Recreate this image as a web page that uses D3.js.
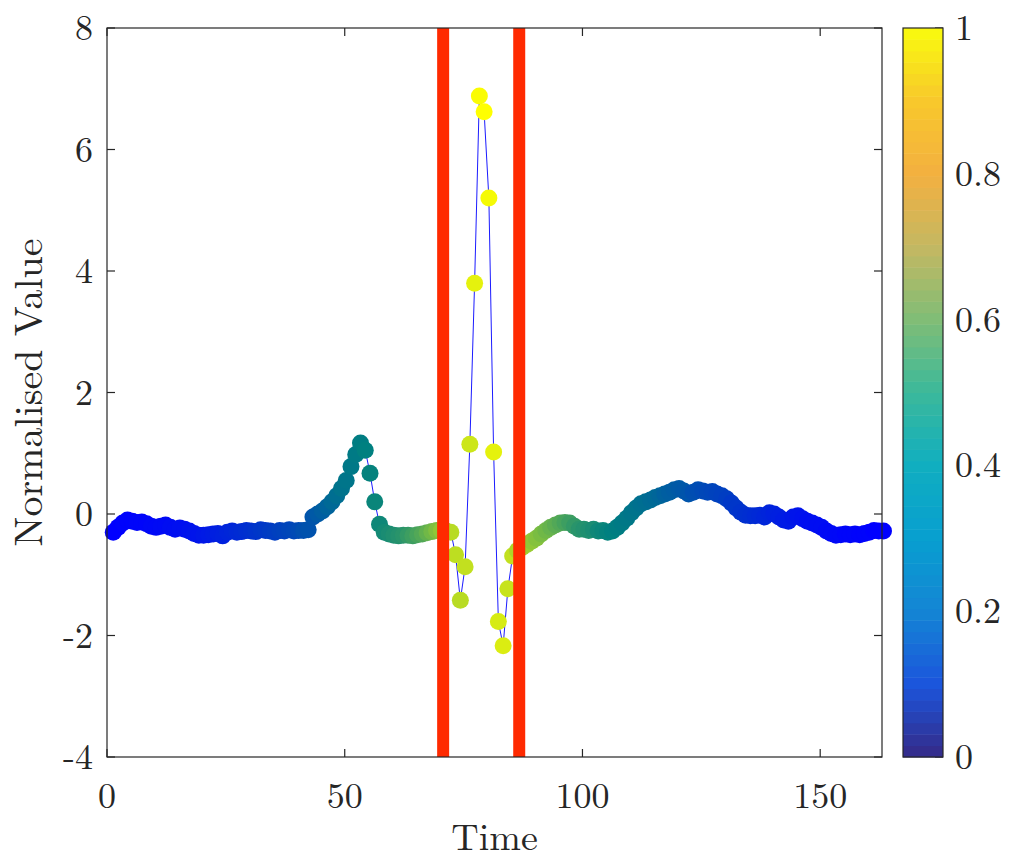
<!DOCTYPE html>
<html>
<head>
<meta charset="utf-8">
<script src="https://cdn.jsdelivr.net/npm/d3@7"></script>
<style>
  body { margin: 0; background: #fff; }
  text { font-family: "Latin Modern Roman", "CMU Serif", "Liberation Serif", serif; fill: #262626; }
</style>
</head>
<body>
<div id="chart"></div>
<script>
var width = 1014, height = 862,
    plot = {left: 107, right: 882, top: 28, bottom: 757},
    cbar = {left: 903, right: 943};

// normalised signal, one value per time step (t = 1..163)
var values = [
  -0.30,-0.22,-0.15,-0.10,-0.12,-0.14,-0.13,-0.16,-0.20,-0.22,
  -0.20,-0.18,-0.22,-0.25,-0.23,-0.25,-0.28,-0.32,-0.35,-0.35,
  -0.34,-0.33,-0.32,-0.36,-0.30,-0.28,-0.30,-0.29,-0.27,-0.28,
  -0.29,-0.26,-0.27,-0.28,-0.30,-0.27,-0.28,-0.26,-0.28,-0.27,
  -0.27,-0.26,-0.05, 0.00, 0.05, 0.12, 0.20, 0.30, 0.42, 0.55,
   0.78, 0.98, 1.17, 1.05, 0.67, 0.20,-0.17,-0.30,-0.33,-0.35,
  -0.36,-0.35,-0.35,-0.36,-0.34,-0.33,-0.31,-0.29,-0.27,-0.27,
  -0.28,-0.30,-0.67,-1.42,-0.87, 1.15, 3.80, 6.88, 6.62, 5.20,
   1.02,-1.77,-2.17,-1.23,-0.69,-0.60,-0.55,-0.50,-0.45,-0.40,
  -0.33,-0.27,-0.22,-0.18,-0.15,-0.14,-0.15,-0.20,-0.25,-0.25,
  -0.27,-0.25,-0.28,-0.27,-0.30,-0.28,-0.22,-0.15,-0.07, 0.02,
   0.10, 0.17, 0.20, 0.23, 0.27, 0.30, 0.33, 0.36, 0.40, 0.42,
   0.38, 0.33, 0.36, 0.40, 0.38, 0.36, 0.37, 0.33, 0.30, 0.25,
   0.18, 0.10, 0.03,-0.02,-0.03,-0.03,-0.02,-0.05, 0.02, 0.00,
  -0.05,-0.10,-0.12,-0.05,-0.03,-0.08,-0.12,-0.15,-0.18,-0.22,
  -0.28,-0.32,-0.35,-0.34,-0.33,-0.34,-0.33,-0.34,-0.32,-0.30,
  -0.27,-0.28,-0.28
];

// weight of each point (0..1), drives the marker colour
var weights = [
  0.00,0.00,0.01,0.01,0.01,0.02,0.02,0.02,0.03,0.03,
  0.04,0.04,0.05,0.05,0.06,0.06,0.07,0.08,0.08,0.09,
  0.10,0.11,0.12,0.13,0.14,0.15,0.16,0.17,0.18,0.19,
  0.20,0.21,0.22,0.23,0.24,0.25,0.26,0.27,0.28,0.29,
  0.31,0.32,0.33,0.35,0.37,0.39,0.41,0.43,0.45,0.46,
  0.47,0.48,0.49,0.50,0.51,0.52,0.53,0.54,0.55,0.56,
  0.57,0.58,0.60,0.62,0.64,0.66,0.69,0.72,0.75,0.78,
  0.82,0.86,0.87,0.86,0.88,0.90,0.95,0.99,1.00,0.98,
  0.95,0.92,0.93,0.89,0.88,0.84,0.82,0.80,0.78,0.76,
  0.74,0.72,0.70,0.68,0.66,0.64,0.62,0.60,0.58,0.57,
  0.56,0.55,0.53,0.52,0.51,0.50,0.49,0.48,0.47,0.46,
  0.45,0.44,0.43,0.42,0.41,0.40,0.38,0.37,0.36,0.35,
  0.34,0.33,0.31,0.30,0.29,0.28,0.27,0.26,0.25,0.24,
  0.22,0.21,0.20,0.19,0.18,0.17,0.16,0.15,0.14,0.13,
  0.12,0.11,0.10,0.09,0.08,0.07,0.06,0.06,0.05,0.05,
  0.04,0.04,0.03,0.03,0.02,0.02,0.02,0.01,0.01,0.01,
  0.00,0.00,0.00
];

var redLines = [70.7, 86.7];
var xTicks = [0, 50, 100, 150];
var yTicks = [-4, -2, 0, 2, 4, 6, 8];
var cTicks = [0, 0.2, 0.4, 0.6, 0.8, 1];

// parula-like colorbar stops
var parulaStops = ["#352a87", "#1b55dc", "#1485d4", "#089fd0", "#10aec0", "#3bb99b",
                   "#80bd76", "#c4b862", "#f3b040", "#f8c82c", "#f9fb0e"];

var data = values.map(function(v, i) { return {t: i + 1, v: v, w: weights[i]}; });

var x = d3.scaleLinear().domain([0, 163]).range([plot.left, plot.right]);
var y = d3.scaleLinear().domain([-4, 8]).range([plot.bottom, plot.top]);
var cy = d3.scaleLinear().domain([0, 1]).range([plot.bottom, plot.top]);
var parula = d3.scaleLinear().domain(d3.range(parulaStops.length).map(function(i){ return i / (parulaStops.length - 1); }))
  .range(parulaStops);

function markerColor(w) {
  return d3.rgb(Math.max(0, 2 * w - 1) * 255, w * 255, (1 - w) * 255);
}

var svg = d3.select("#chart").append("svg")
    .attr("width", width)
    .attr("height", height);

svg.append("rect").attr("width", width).attr("height", height).attr("fill", "#fff");

// thin line joining the points (markers sit slightly right of integer t in the original)
var xp = function(d){ return x(d.t) + 1.5; };

svg.append("path")
    .datum(data)
    .attr("fill", "none")
    .attr("stroke", "#0000ff")
    .attr("stroke-width", 0.9)
    .attr("d", d3.line().x(xp).y(function(d){ return y(d.v); }));

svg.selectAll(".pt")
    .data(data)
  .enter().append("circle")
    .attr("class", "pt")
    .attr("cx", xp)
    .attr("cy", function(d){ return y(d.v); })
    .attr("r", 8.5)
    .attr("fill", function(d){ return markerColor(d.w); });

// window markers
svg.selectAll(".win")
    .data(redLines)
  .enter().append("rect")
    .attr("class", "win")
    .attr("x", function(d){ return x(d) - 6; })
    .attr("y", plot.top)
    .attr("width", 12)
    .attr("height", plot.bottom - plot.top)
    .attr("fill", "#ff2a00");

// axes box + inward ticks (matlab style)
var axisCol = "#262626", tickLen = 8;
svg.append("rect")
    .attr("x", plot.left).attr("y", plot.top)
    .attr("width", plot.right - plot.left).attr("height", plot.bottom - plot.top)
    .attr("fill", "none").attr("stroke", axisCol).attr("stroke-width", 1.2);

var g = svg.append("g").attr("stroke", axisCol).attr("stroke-width", 1.2);
xTicks.forEach(function(t) {
  g.append("line").attr("x1", x(t)).attr("x2", x(t)).attr("y1", plot.bottom).attr("y2", plot.bottom - tickLen);
  g.append("line").attr("x1", x(t)).attr("x2", x(t)).attr("y1", plot.top).attr("y2", plot.top + tickLen);
});
yTicks.forEach(function(t) {
  g.append("line").attr("x1", plot.left).attr("x2", plot.left + tickLen).attr("y1", y(t)).attr("y2", y(t));
  g.append("line").attr("x1", plot.right).attr("x2", plot.right - tickLen).attr("y1", y(t)).attr("y2", y(t));
});

svg.selectAll(".xlab")
    .data(xTicks)
  .enter().append("text")
    .attr("x", function(d){ return x(d); })
    .attr("y", 808)
    .attr("text-anchor", "middle")
    .attr("font-size", 36)
    .text(function(d){ return d; });

svg.selectAll(".ylab")
    .data(yTicks)
  .enter().append("text")
    .attr("x", 93)
    .attr("y", function(d){ return y(d) + 12; })
    .attr("text-anchor", "end")
    .attr("font-size", 36)
    .text(function(d){ return d; });

svg.append("text")
    .attr("x", (plot.left + plot.right) / 2)
    .attr("y", 850)
    .attr("text-anchor", "middle")
    .attr("font-size", 38)
    .text("Time");

svg.append("text")
    .attr("transform", "translate(42," + ((plot.top + plot.bottom) / 2) + ") rotate(-90)")
    .attr("text-anchor", "middle")
    .attr("font-size", 40)
    .text("Normalised Value");

// colorbar, 64 bands
var nBands = 64, bandH = (plot.bottom - plot.top) / nBands;
svg.selectAll(".band")
    .data(d3.range(nBands))
  .enter().append("rect")
    .attr("class", "band")
    .attr("x", cbar.left)
    .attr("y", function(i){ return plot.bottom - (i + 1) * bandH; })
    .attr("width", cbar.right - cbar.left)
    .attr("height", bandH + 0.5)
    .attr("fill", function(i){ return parula((i + 0.5) / nBands); });

svg.append("rect")
    .attr("x", cbar.left).attr("y", plot.top)
    .attr("width", cbar.right - cbar.left).attr("height", plot.bottom - plot.top)
    .attr("fill", "none").attr("stroke", axisCol).attr("stroke-width", 1.2);

cTicks.forEach(function(t) {
  g.append("line").attr("x1", cbar.right).attr("x2", cbar.right - tickLen).attr("y1", cy(t)).attr("y2", cy(t));
});

svg.selectAll(".clab")
    .data(cTicks)
  .enter().append("text")
    .attr("x", 955)
    .attr("y", function(d){ return cy(d) + 12; })
    .attr("font-size", 36)
    .text(function(d){ return d; });
</script>
</body>
</html>
